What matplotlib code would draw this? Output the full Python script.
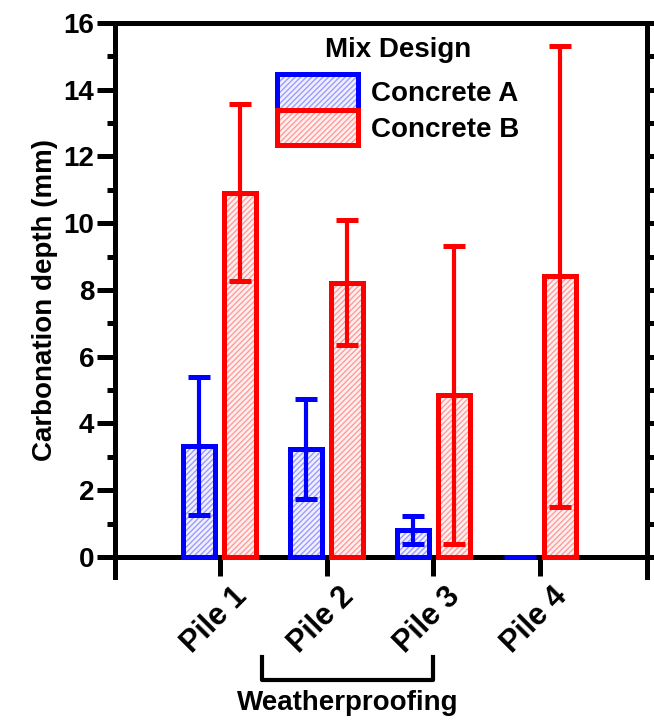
import numpy as np
import matplotlib
matplotlib.use("Agg")
import matplotlib.pyplot as plt
from matplotlib.patches import Patch
from matplotlib.lines import Line2D
import matplotlib.transforms as mtransforms

# ---- data ----
piles = ["Pile 1", "Pile 2", "Pile 3", "Pile 4"]
concrete_a = [3.32, 3.24, 0.80, 0.0]
concrete_a_err = [2.07, 1.50, 0.42, 0.0]
concrete_b = [10.92, 8.22, 4.86, 8.41]
concrete_b_err = [2.64, 1.87, 4.47, 6.90]
series_names = ["Concrete A", "Concrete B"]
legend_title = "Mix Design"
group_label = "Weatherproofing"
y_label = "Carbonation depth (mm)"

plt.rcParams["font.family"] = ["Liberation Sans", "DejaVu Sans"]
plt.rcParams["font.weight"] = "bold"
plt.rcParams["hatch.linewidth"] = 1.0

FS = 20
LW = 3.6

fig = plt.figure(figsize=(6.54, 7.21), dpi=100)
ax = fig.add_axes([115 / 654, 1 - 577 / 721, (647 - 115) / 654, (577 - 23) / 721])

x = np.arange(1, len(piles) + 1)
width = 0.30
offset = 0.19

styles = [
    dict(vals=concrete_a, errs=concrete_a_err, pos=x - offset,
         edge="#0000ff", hatch_col="#9c9cff", fill="#f0f0ff"),
    dict(vals=concrete_b, errs=concrete_b_err, pos=x + offset,
         edge="#ff0000", hatch_col="#ff9c9c", fill="#fff0f0"),
]
HATCH = "//////"

handles = []
for s in styles:
    # hatched fill
    ax.bar(s["pos"], s["vals"], width, facecolor=s["fill"],
           edgecolor=s["hatch_col"], hatch=HATCH, linewidth=0, zorder=2)
    # solid outline
    ax.bar(s["pos"], s["vals"], width, facecolor="none",
           edgecolor=s["edge"], linewidth=LW, zorder=3)
    has_err = np.array(s["errs"]) > 0
    ax.errorbar(np.array(s["pos"])[has_err], np.array(s["vals"])[has_err],
                yerr=np.array(s["errs"])[has_err], fmt="none",
                ecolor=s["edge"], elinewidth=3.0, capsize=8, capthick=3.6,
                zorder=4)
    handles.append((Patch(facecolor=s["fill"], edgecolor=s["hatch_col"],
                          hatch=HATCH, linewidth=0),
                    Patch(facecolor="none", edgecolor=s["edge"], linewidth=LW)))

# ---- axes styling ----
ax.set_xlim(0.02, 5.0)
ax.set_ylim(-0.6, 16)
ax.spines["bottom"].set_position(("data", 0))
for sp in ax.spines.values():
    sp.set_linewidth(LW)

ax.set_yticks(np.arange(0, 17, 2))
ax.set_yticks(np.arange(1, 16, 2), minor=True)
ax.tick_params(axis="y", which="major", direction="out", length=13, width=LW,
               labelsize=FS, pad=2)
ax.tick_params(axis="y", which="minor", direction="out", length=6, width=LW)

ax.set_xticks(x)
ax.set_xticklabels(piles, rotation=45, ha="right", rotation_mode="anchor",
                   fontsize=22, fontweight="bold")
ax.tick_params(axis="x", which="major", direction="out", length=14, width=LW,
               pad=5)
for lab in ax.get_xticklabels():
    lab.set_transform(lab.get_transform() +
                      mtransforms.ScaledTranslation(12 / 100, 2 / 100, fig.dpi_scale_trans))

for lab in ax.get_yticklabels():
    lab.set_fontweight("bold")

# right-hand ticks at every unit, pointing outward
sec = ax.secondary_yaxis("right")
sec.set_yticks(np.arange(0, 17, 1))
sec.tick_params(axis="y", which="major", direction="out", length=8, width=LW,
                labelright=False, right=True, left=False)
sec.spines["right"].set_linewidth(LW)

ax.set_ylabel(y_label, fontsize=FS, fontweight="bold", labelpad=4)

# ---- legend ----
leg = ax.legend(handles, series_names, title=legend_title, frameon=False,
                fontsize=FS, title_fontproperties={"size": FS, "weight": "bold"},
                loc="upper left", bbox_to_anchor=(0.268, 1.01),
                handlelength=2.9, handleheight=1.6, labelspacing=0.0,
                handletextpad=0.5, borderaxespad=0.3)
leg._legend_box.sep = 8
for t in leg.get_texts():
    t.set_fontweight("bold")

# ---- group bracket below the tick labels ----
trans = mtransforms.blended_transform_factory(ax.transData, fig.transFigure)
y_top, y_bot = 1 - 657 / 721, 1 - 680 / 721
bx0, bx1 = 1.40, 3.0
ax.add_line(Line2D([bx0, bx0, bx1, bx1], [y_top, y_bot, y_bot, y_top],
                   transform=trans, color="black", linewidth=3.0,
                   clip_on=False))
ax.text((bx0 + bx1) / 2, 1 - 703 / 721, group_label, transform=trans,
        ha="center", va="center", fontsize=FS, fontweight="bold")

fig.savefig("out.png", dpi=100)
